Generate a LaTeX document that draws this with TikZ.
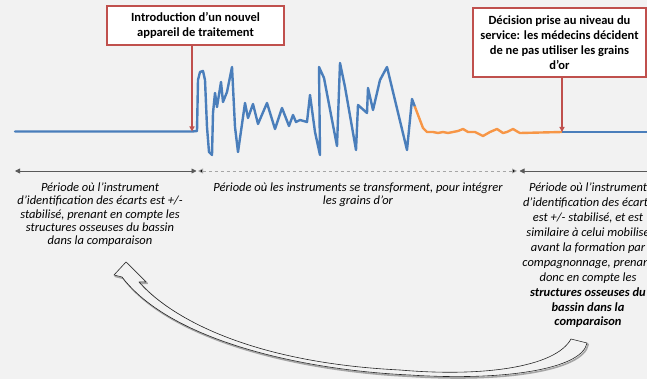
\documentclass[tikz,border=0pt]{standalone}
\usepackage{fontspec}
\setmainfont{Carlito}
\usetikzlibrary{arrows.meta}
\definecolor{bg}{HTML}{F2F2F2}
\definecolor{lblue}{HTML}{4A7EBB}
\definecolor{lorange}{HTML}{F79646}
\definecolor{lred}{HTML}{C0504D}
\definecolor{tline}{HTML}{595959}
\definecolor{dline}{HTML}{A6A6A6}
\begin{document}
\begin{tikzpicture}[x=1pt,y=-1pt,
  callout/.style={draw=lred, line width=1.5pt, fill=white, align=center, inner sep=0pt,
    font=\fontsize{12.5}{15}\selectfont\bfseries},
  redarrow/.style={draw=lred, line width=1.2pt, -{Triangle[length=5pt,width=5pt]}},
  curve/.style={line width=2.4pt, line join=round, line cap=round},
  txt/.style={align=center, inner sep=0pt, font=\fontsize{12.5}{13.4}\selectfont\itshape},
  txtwide/.style={align=center, inner sep=0pt, font=\fontsize{12.5}{14.9}\selectfont\itshape},
  span/.style={draw=tline, line width=0.8pt, {Triangle[length=5pt,width=5pt]}-{Triangle[length=5pt,width=5pt]}},
  dspan/.style={draw=dline, line width=0.8pt, dashed, {Triangle[length=5pt,width=5pt,fill=black]}-{Triangle[length=5pt,width=5pt,fill=black]}}
]
\useasboundingbox (0,0) rectangle (647,379);
\fill[bg] (0,0) rectangle (647,379);

% callouts
\node[callout, minimum width=177pt, minimum height=39pt] (box1) at (195.5,25.5)
  {Introduction d’un nouvel\\appareil de traitement};
\node[callout, minimum width=173pt, minimum height=69pt] (box2) at (559.5,42.5)
  {Décision prise au niveau du\\service: les médecins décident\\de ne pas utiliser les grains\\d’or};

\coordinate (b0) at (15,131.5);
\coordinate (b1) at (192,131.5);
\coordinate (b2) at (562,132);
\coordinate (b3) at (648,132);

% baseline curve
\draw[curve, lblue] (b0) -- (b1) -- (197,131) -- (198,80) -- (200,72) -- (203,71) -- (205,80) -- (207,127) -- (209,152) -- (212,155) -- (213,113) -- (215,93) -- (217,107) -- (221,82) -- (223,102) -- (227,92) -- (232,67) -- (235,127) -- (238,152) -- (245,103) -- (248,118) -- (253,104) -- (258,124) -- (267,103) -- (275,129) -- (282,108) -- (289,126) -- (293,115) -- (296,122) -- (300,120) -- (307,122) -- (310,95) -- (315,132) -- (320,155) -- (319,67) -- (324,78) -- (332,120) -- (337,146) -- (340,63) -- (345,87) -- (356,150) -- (358,105) -- (367,113) -- (368,88) -- (373,110) -- (380,80) -- (387,67) -- (407,150) -- (412,99) -- (415,107);
\draw[curve, lorange] (415,107) -- (423,128) -- (427,132) -- (433,132) -- (438,133) -- (443,132) -- (448,133) -- (453,132) -- (458,131) -- (463,129) -- (468,132) -- (475,132) -- (483,136) -- (490,132) -- (497,129) -- (503,133) -- (507,132) -- (513,129) -- (518,132) -- (520,133) -- (b2);
\draw[curve, lblue, line cap=butt] (b2) -- (b3);

\draw[redarrow] (box1.south -| b1) -- (b1);
\draw[redarrow] (box2.south -| b2) -- (b2);

% timeline
\coordinate (t0) at (15,171);
\coordinate (t1) at (196.5,171);
\coordinate (t2) at (198,171);
\coordinate (t3) at (517,171);
\coordinate (t4) at (519.5,171);
\coordinate (t5) at (690,171);
\draw[span] (t0) -- (t1);
\draw[dspan] (t2) -- (t3);
\draw[span] (t4) -- (t5);

% texts
\node[txt, anchor=north] (p1) at (100,182.5)
  {Période où l’instrument\\d’identification des écarts est +/-\\stabilisé, prenant en compte les\\structures osseuses du bassin\\dans la comparaison};
\node[txt, anchor=north] (p2) at (358,182.5)
  {Période où les instruments se transforment, pour intégrer\\les grains d’or};
\node[txtwide, anchor=north] (p3) at (588,183)
  {Période où l’instrument\\d’identification des écarts\\est +/- stabilisé, et est\\similaire à celui mobilisé\\avant la formation par\\compagnonnage, prenant\\donc en compte les\\\textbf{structures osseuses du}\\\textbf{bassin dans la}\\\textbf{comparaison}};

% curved block arrow (from right text back to left text)
\def\bigarrow{(126,262) -- (146,282) -- (139,282)
  .. controls (165,312) and (240,362) .. (400,370)
  .. controls (480,377) and (555,368) .. (571,339)
  -- (587,343)
  .. controls (582,370) and (500,381) .. (410,375)
  .. controls (300,370) and (170,340) .. (122,277)
  -- (114,275) -- cycle}
\draw[black!35, line width=1.6pt, line join=round, shift={(1.2,1.4)}] \bigarrow;
\draw[fill=bg, draw=black!85, line width=0.6pt, line join=round] \bigarrow;
\end{tikzpicture}
\end{document}
